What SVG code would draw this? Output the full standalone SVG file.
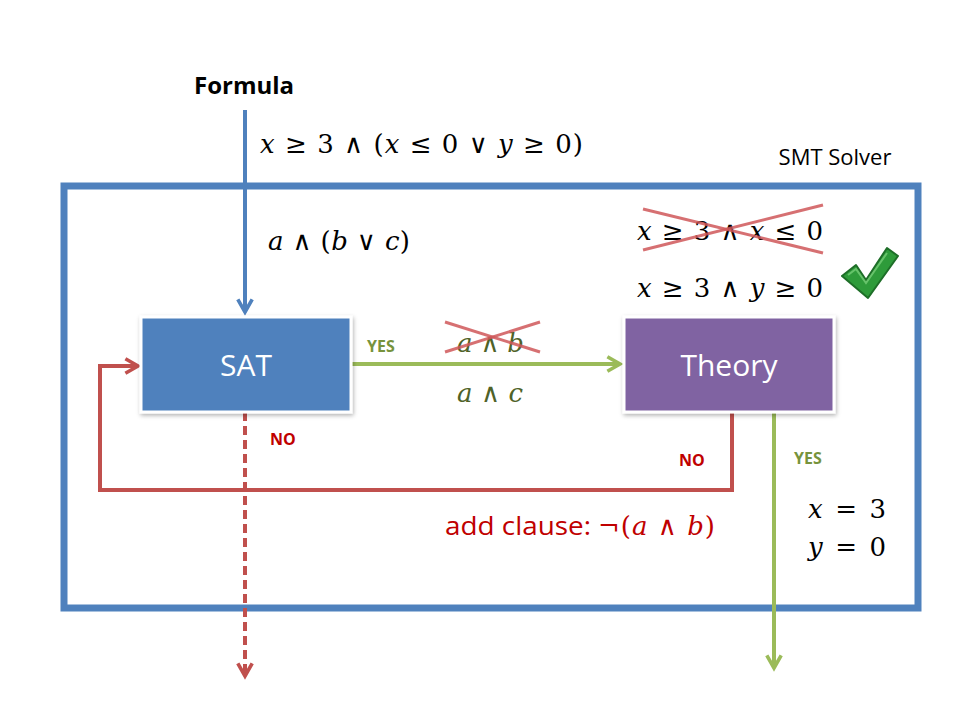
<svg xmlns="http://www.w3.org/2000/svg" width="960" height="720" viewBox="0 0 960 720">
<defs>
<style>
.math{font-family:"DejaVu Serif","Liberation Serif",serif;font-size:26px;fill:#000}
.v{font-style:italic}
.lbl{font-family:"Open Sans","Liberation Sans",sans-serif;font-weight:bold;font-size:16px}
.box{font-family:"Open Sans","Liberation Sans",sans-serif;font-size:30px;fill:#fff;text-anchor:middle}
.cross{stroke:#D0585A;stroke-width:3;opacity:0.85}
</style>
<marker id="ab" viewBox="0 0 10 10" refX="8" refY="5" markerWidth="4.5" markerHeight="4.5" orient="auto"><path d="M1,1 L8,5 L1,9" fill="none" stroke="#4F81BD" stroke-width="2"/></marker>
<marker id="ag" viewBox="0 0 10 10" refX="8" refY="5" markerWidth="4.5" markerHeight="4.5" orient="auto"><path d="M1,1 L8,5 L1,9" fill="none" stroke="#9BBB59" stroke-width="2"/></marker>
<marker id="ar" viewBox="0 0 10 10" refX="8" refY="5" markerWidth="4.5" markerHeight="4.5" orient="auto"><path d="M1,1 L8,5 L1,9" fill="none" stroke="#C0504D" stroke-width="2"/></marker>
<filter id="sh" x="-10%" y="-10%" width="120%" height="130%"><feDropShadow dx="1" dy="2" stdDeviation="2" flood-color="#000" flood-opacity="0.3"/></filter>
</defs>
<rect width="960" height="720" fill="#fff"/>

<g id="smt-solver">
<rect x="64" y="186" width="854" height="422" fill="none" stroke="#4F81BD" stroke-width="7"/>
<text x="835" y="165" font-family="'Open Sans','Liberation Sans',sans-serif" font-size="22" text-anchor="middle">SMT Solver</text>
</g>

<g id="formula">
<text x="244" y="94" font-family="'Open Sans','Liberation Sans',sans-serif" font-weight="bold" font-size="24" text-anchor="middle">Formula</text>
<text class="math" x="260" y="153" textLength="323" lengthAdjust="spacing"><tspan class="v">x</tspan> ≥ 3 ∧ (<tspan class="v">x</tspan> ≤ 0 ∨ <tspan class="v">y</tspan> ≥ 0)</text>
<text class="math" x="268" y="250" textLength="142" lengthAdjust="spacing"><tspan class="v">a</tspan> ∧ (<tspan class="v">b</tspan> ∨ <tspan class="v">c</tspan>)</text>
</g>

<g id="connectors" fill="none">
<line x1="245" y1="110" x2="245" y2="312" stroke="#4F81BD" stroke-width="4" marker-end="url(#ab)"/>
<line x1="352" y1="364" x2="620" y2="364" stroke="#9BBB59" stroke-width="4" marker-end="url(#ag)"/>
<polyline points="732,412 732,490 100,490 100,366 138,366" stroke="#C0504D" stroke-width="4" marker-end="url(#ar)"/>
<line x1="245" y1="412" x2="245" y2="676" stroke="#C0504D" stroke-width="4" stroke-dasharray="9,5" marker-end="url(#ar)"/>
<line x1="774" y1="412" x2="774" y2="668" stroke="#9BBB59" stroke-width="4" marker-end="url(#ag)"/>
</g>

<g id="sat">
<rect x="141" y="317" width="210" height="95" fill="#4F81BD" stroke="#fff" stroke-width="3" filter="url(#sh)"/>
<text class="box" x="246" y="376">SAT</text>
</g>

<g id="theory">
<rect x="624" y="317" width="210" height="95" fill="#8064A2" stroke="#fff" stroke-width="3" filter="url(#sh)"/>
<text class="box" x="729" y="376">Theory</text>
</g>

<g id="labels">
<text class="lbl" x="367" y="352" fill="#77933C">YES</text>
<text class="math" x="457" y="352" style="fill:#4F6228" textLength="67" lengthAdjust="spacing"><tspan class="v">a</tspan> ∧ <tspan class="v">b</tspan></text>
<line class="cross" x1="445" y1="322" x2="540" y2="352"/>
<line class="cross" x1="445" y1="352" x2="540" y2="322"/>
<text class="math" x="457" y="402" style="fill:#4F6228" textLength="66" lengthAdjust="spacing"><tspan class="v">a</tspan> ∧ <tspan class="v">c</tspan></text>
<text class="lbl" x="270" y="445" fill="#C00000">NO</text>
<text class="lbl" x="679" y="466" fill="#C00000">NO</text>
<text class="lbl" x="794" y="464" fill="#77933C">YES</text>
<text class="math" x="637" y="240" textLength="186" lengthAdjust="spacing"><tspan class="v">x</tspan> ≥ 3 ∧ <tspan class="v">x</tspan> ≤ 0</text>
<line class="cross" x1="643" y1="209" x2="823" y2="253"/>
<line class="cross" x1="643" y1="250" x2="823" y2="205"/>
<text class="math" x="637" y="297" textLength="186" lengthAdjust="spacing"><tspan class="v">x</tspan> ≥ 3 ∧ <tspan class="v">y</tspan> ≥ 0</text>
<text class="math" x="808" y="518" textLength="78" lengthAdjust="spacing"><tspan class="v">x</tspan> = 3</text>
<text class="math" x="808" y="556" textLength="78" lengthAdjust="spacing"><tspan class="v">y</tspan> = 0</text>
<text x="445" y="535" font-family="'Open Sans','Liberation Sans',sans-serif" font-size="25" fill="#C00000" textLength="146" lengthAdjust="spacingAndGlyphs">add clause:</text>
<text class="math" x="598" y="535" style="fill:#C00000" font-size="27" textLength="117" lengthAdjust="spacing">¬(<tspan class="v">a</tspan> ∧ <tspan class="v">b</tspan>)</text>
</g>

<g id="checkmark">
<path d="M842,276 L856,265 L866,280 L887,248 L898,256 L868,298 Z" fill="#2E9B3A" stroke="#1E6E28" stroke-width="2" stroke-linejoin="round"/>
<path d="M848,275 L856,269 L866,283 L887,253" fill="none" stroke="#7FD47F" stroke-width="2" opacity="0.7"/>
</g>
</svg>
